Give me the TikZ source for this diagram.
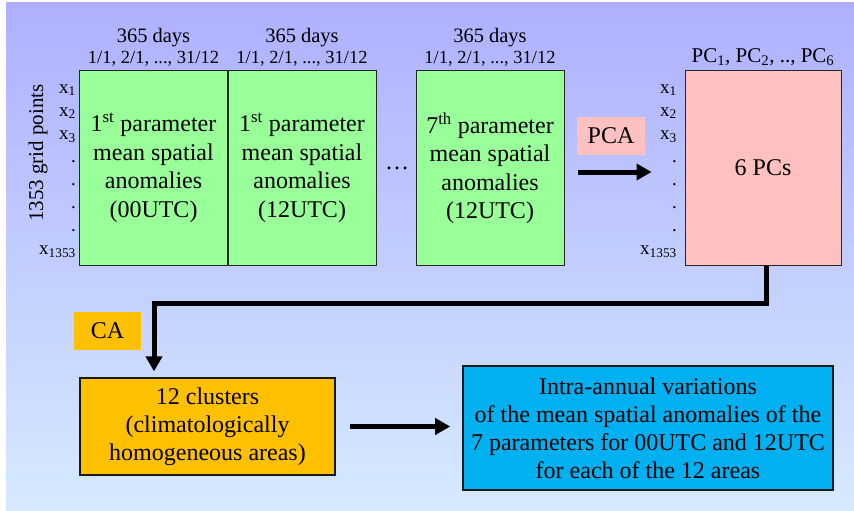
\documentclass[tikz,border=0pt]{standalone}
\usepackage{fontspec}
\setmainfont{Liberation Serif}
\usetikzlibrary{arrows.meta}
\definecolor{bgtop}{HTML}{AEB0FF}
\definecolor{bgbot}{HTML}{D6EAFF}
\definecolor{grn}{HTML}{99FF99}
\definecolor{pnk}{HTML}{FFC0C0}
\definecolor{org}{HTML}{FFC000}
\definecolor{blu}{HTML}{00B0F0}
\tikzset{
  databox/.style={draw=black!85, line width=0.9pt, minimum width=148pt, minimum height=195pt, inner sep=0pt, align=center, font=\fontsize{24}{28.5}\selectfont},
  hdr/.style={align=center, font=\fontsize{18.5}{21}\selectfont, inner sep=0pt},
  xlab/.style={align=right, anchor=east, font=\fontsize{19}{23.1}\selectfont, inner sep=0pt},
  tag/.style={inner sep=0pt, font=\fontsize{24}{28}\selectfont},
  bigarrow/.style={line width=5pt, -{Triangle[length=15pt,width=16pt]}},
  resbox/.style={draw=black!90, fill=#1, align=center, inner sep=0pt, font=\fontsize{24}{28}\selectfont}
}
\begin{document}
\begin{tikzpicture}[x=1pt,y=-1pt]
\useasboundingbox (0,0) rectangle (854,511);
\fill[white] (0,0) rectangle (854,511);
\shade[top color=bgtop, bottom color=bgbot] (6,3) rectangle (854,511);

% data boxes
\node[databox, fill=grn] (g1) at (153.5,168) {1\textsuperscript{st} parameter\\mean spatial\\anomalies\\(00UTC)};
\node[databox, fill=grn] (g2) at (302,168) {1\textsuperscript{st} parameter\\mean spatial\\anomalies\\(12UTC)};
\node[databox, fill=grn] (g3) at (490,168) {7\textsuperscript{th} parameter\\mean spatial\\anomalies\\(12UTC)};
\node[databox, fill=pnk, minimum width=156pt] (pc) at (763,168) {6 PCs};

% headers
\node[hdr] (h1) at (153.5,47) {{\fontsize{20.5}{21}\selectfont 365 days}\\1/1, 2/1, ..., 31/12};
\node[hdr] (h2) at (302,47) {{\fontsize{20.5}{21}\selectfont 365 days}\\1/1, 2/1, ..., 31/12};
\node[hdr] (h3) at (490,47) {{\fontsize{20.5}{21}\selectfont 365 days}\\1/1, 2/1, ..., 31/12};
\node[hdr, font=\fontsize{21}{21}\selectfont] (h4) at (763,57) {PC\textsubscript{1}, PC\textsubscript{2}, .., PC\textsubscript{6}};

% row labels
\node[xlab] (xl1) at (76,171) {x\textsubscript{1}\\x\textsubscript{2}\\x\textsubscript{3}\\.\\.\\.\\.\\x\textsubscript{1353}};
\node[xlab] (xl2) at (677,171) {x\textsubscript{1}\\x\textsubscript{2}\\x\textsubscript{3}\\.\\.\\.\\.\\x\textsubscript{1353}};
\node[rotate=90, font=\fontsize{21}{21}\selectfont, inner sep=0pt] (gp) at (38,153) {1353 grid points};
\node[font=\fontsize{24}{24}\selectfont, inner sep=0pt] (dots) at (397,168) {\dots};

% method tags
\node[tag, fill=pnk, minimum width=68pt, minimum height=38pt] (pca) at (611,136) {PCA};
\node[tag, fill=org, minimum width=67pt, minimum height=38pt] (ca) at (107.5,331) {CA};

% result boxes
\node[resbox=org, line width=1.2pt, minimum width=255pt, minimum height=97pt] (cl) at (207.5,426.5) {12 clusters\\(climatologically\\homogeneous areas)};
\node[resbox=blu, line width=1.6pt, minimum width=370pt, minimum height=124pt] (res) at (648,428) {Intra-annual variations\\of the mean spatial anomalies of the\\7 parameters for 00UTC and 12UTC\\for each of the 12 areas};

% connectors
\draw[bigarrow] ([xshift=14pt,yshift=-4pt]g3.east) -- ([xshift=-33pt,yshift=-4pt]pc.west);
\draw[bigarrow, shorten >=6pt] ([xshift=3pt]pc.south) -- ++(0,38) -| ([xshift=-53.5pt]cl.north);
\draw[bigarrow] ([xshift=14pt]cl.east) -- ([xshift=-12pt,yshift=1.5pt]res.west);
\end{tikzpicture}
\end{document}
